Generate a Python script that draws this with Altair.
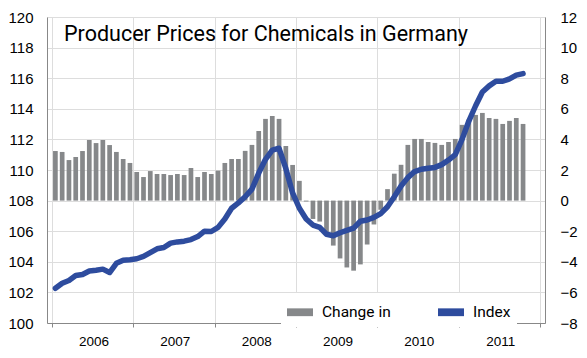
import altair as alt
import pandas as pd

years = ["2006", "2007", "2008", "2009", "2010", "2011"]

change_pct = [
    3.24, 3.18, 2.65, 2.85, 3.24, 3.96, 3.76, 3.96, 3.63, 3.18, 2.72, 2.46,
    1.87, 1.54, 1.93, 1.74, 1.74, 1.67, 1.74, 1.67, 2.13, 1.54, 1.87, 1.74,
    1.96, 2.46, 2.72, 2.72, 3.25, 3.64, 4.55, 5.34, 5.53, 5.34, 3.57, 2.33,
    1.29, -0.06, -1.20, -1.37, -2.20, -2.94, -3.78, -4.37, -4.58, -4.17, -2.87, -1.56,
    -0.60, 0.75, 1.76, 2.34, 3.64, 4.03, 4.03, 3.83, 3.77, 3.64, 3.83, 4.03,
    4.95, 5.30, 5.60, 5.73, 5.40, 5.34, 5.01, 5.21, 5.40, 5.01,
]

index_vals = [
    102.27, 102.60, 102.78, 103.10, 103.17, 103.40, 103.45, 103.52, 103.30, 103.90, 104.10, 104.14,
    104.20, 104.35, 104.60, 104.85, 104.93, 105.22, 105.30, 105.35, 105.45, 105.65, 106.00, 105.98,
    106.25, 106.80, 107.50, 107.85, 108.25, 108.75, 109.80, 110.70, 111.30, 111.42, 110.10, 108.50,
    107.50, 106.80, 106.40, 106.25, 105.80, 105.70, 105.90, 106.05, 106.20, 106.65, 106.73, 106.90,
    107.15, 107.60, 108.25, 108.95, 109.50, 109.90, 110.05, 110.12, 110.17, 110.35, 110.65, 111.00,
    112.00, 113.20, 114.20, 115.10, 115.50, 115.80, 115.80, 115.95, 116.20, 116.30,
]

series_names = ["Change in", "Index"]
title_text = "Producer Prices for Chemicals in Germany"

left_ticks = list(range(100, 121, 2))
right_ticks = list(range(-8, 13, 2))
year_ticks = [12 * k for k in range(len(years) + 1)]

n = len(index_vals)
df = pd.DataFrame({
    "m": [i + 0.5 for i in range(n)],
    "change": change_pct,
    "index": index_vals,
    "s_bar": [series_names[0]] * n,
    "s_line": [series_names[1]] * n,
})

GRAY_AX = "#8a8a8a"
BAR = "#86888a"
BLUE = "#2e4c9e"
BOLD_FONT = "Liberation Sans"
NARROW = "Roboto"

label_expr = "[" + ",".join("'%s'" % y for y in years) + "][datum.value / 12] || ''"

x_scale = alt.Scale(domain=[0, 12 * len(years)], nice=False, zero=False)
x_axis = alt.Axis(
    values=year_ticks, labelExpr=label_expr, labelOffset=41.5, labelAlign="center",
    labelBound=False, labelFlush=False, labelOverlap=False,
    grid=True, tickSize=4, labelPadding=7, labelFontSize=13.5, title=None,
)

color_scale = alt.Scale(domain=series_names, range=[BAR, BLUE])

bars = alt.Chart(df).mark_bar(size=4.7).encode(
    x=alt.X("m:Q", scale=x_scale, axis=x_axis),
    y=alt.Y("change:Q",
            scale=alt.Scale(domain=[-8, 12], nice=False),
            axis=alt.Axis(orient="right", values=right_ticks, grid=False, tickSize=0,
                          labelPadding=15, labelAlign="left", labelFontSize=15, title=None)),
    color=alt.Color("s_bar:N", scale=color_scale,
                    legend=alt.Legend(
                        orient="none", legendX=234, legendY=276, direction="horizontal",
                        title=None, symbolType="M-1,-0.3H1V0.3H-1Z", symbolSize=676,
                        symbolStrokeWidth=0, labelFont=NARROW, labelFontSize=15.5,
                        labelFontWeight="normal", labelColor="black", labelOffset=9,
                        columnPadding=47, fillColor="white", padding=6,
                        values=series_names)),
)

line = alt.Chart(df).mark_line(strokeWidth=5.5, strokeCap="round", strokeJoin="round").encode(
    x=alt.X("m:Q", scale=x_scale, axis=x_axis),
    y=alt.Y("index:Q",
            scale=alt.Scale(domain=[100, 120], nice=False, zero=False),
            axis=alt.Axis(orient="left", values=left_ticks, grid=True, tickSize=0,
                          labelPadding=14, labelFontSize=15, title=None)),
    color=alt.Color("s_line:N", scale=color_scale, legend=None),
)

chart = alt.layer(bars, line).resolve_scale(y="independent").properties(
    width=498, height=306,
    autosize=alt.AutoSizeParams(type="none"),
    padding={"left": 39, "top": 9, "right": 34, "bottom": 27},
    title=alt.TitleParams(
        text=title_text, anchor="start", frame="group", orient="top",
        font=NARROW, fontSize=21.5, fontWeight="normal", color="black",
        baseline="top", dx=17, dy=35, offset=0,
    ),
).configure_view(strokeWidth=0).configure_axis(
    labelFont=BOLD_FONT, labelFontWeight="bold", labelColor="black",
    domainColor=GRAY_AX, domainWidth=1.5, tickColor=GRAY_AX,
    gridColor="#8a8a8a", gridDash=[1, 2], gridWidth=1,
).configure(background="white")

chart.save("out.html", embed_options={"renderer": "svg", "actions": False})
